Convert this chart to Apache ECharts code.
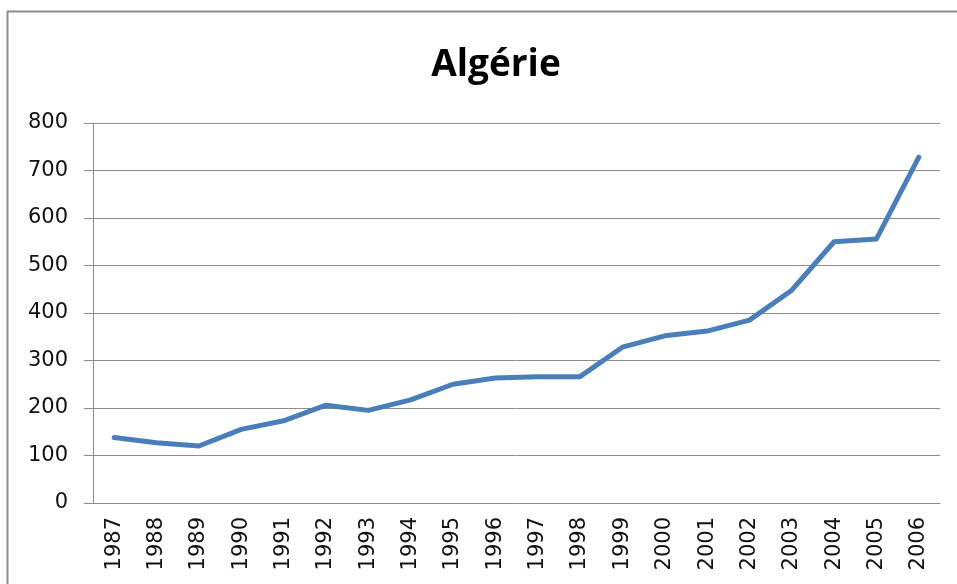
<!DOCTYPE html>
<html>
<head>
<meta charset="utf-8">
<script src="https://cdn.jsdelivr.net/npm/echarts@6/dist/echarts.min.js"></script>
<style>
html,body{margin:0;padding:0;background:#fff;}
#chart{width:957px;height:584px;}
</style>
</head>
<body>
<div id="chart"></div>
<script>
var titleText = "Algérie";
var years = ["1987","1988","1989","1990","1991","1992","1993","1994","1995","1996","1997","1998","1999","2000","2001","2002","2003","2004","2005","2006"];
var values = [138,127,120,155,173,206,195,217,250,263,266,266,328,352,362,385,448,550,556,728];

var chart = echarts.init(document.getElementById('chart'), null, {renderer:'canvas'});
chart.setOption({
  animation:false,
  backgroundColor:'#fff',
  graphic:[{
    type:'rect', silent:true,
    shape:{x:7.5,y:11.5,width:960,height:600},
    style:{fill:'none',stroke:'#8c8c8c',lineWidth:2}
  }],
  title:{
    text:titleText, left:491, top:42, textAlign:'center',
    textStyle:{fontFamily:'Open Sans',fontWeight:'bold',fontSize:37,color:'#000'}
  },
  grid:{left:93,right:17,top:123,bottom:81,containLabel:false},
  xAxis:{
    type:'category', data:years, boundaryGap:true,
    axisLine:{lineStyle:{color:'#8c8c8c',width:1}},
    axisTick:{length:7,lineStyle:{color:'#8c8c8c'}},
    axisLabel:{rotate:90,margin:14,fontFamily:'DejaVu Sans',fontSize:21,color:'#111'}
  },
  yAxis:{
    type:'value', min:0, max:800, interval:100,
    axisLine:{show:true,lineStyle:{color:'#8c8c8c',width:1}},
    axisTick:{show:true,length:9,lineStyle:{color:'#8c8c8c'}},
    splitLine:{lineStyle:{color:'#8c8c8c',width:1}},
    axisLabel:{margin:25,fontFamily:'DejaVu Sans',fontSize:21,color:'#111'}
  },
  series:[{
    type:'line', data:values, symbol:'none', smooth:false,
    lineStyle:{color:'#4a7ebb',width:5,cap:'round',join:'round'}
  }]
});
</script>
</body>
</html>
